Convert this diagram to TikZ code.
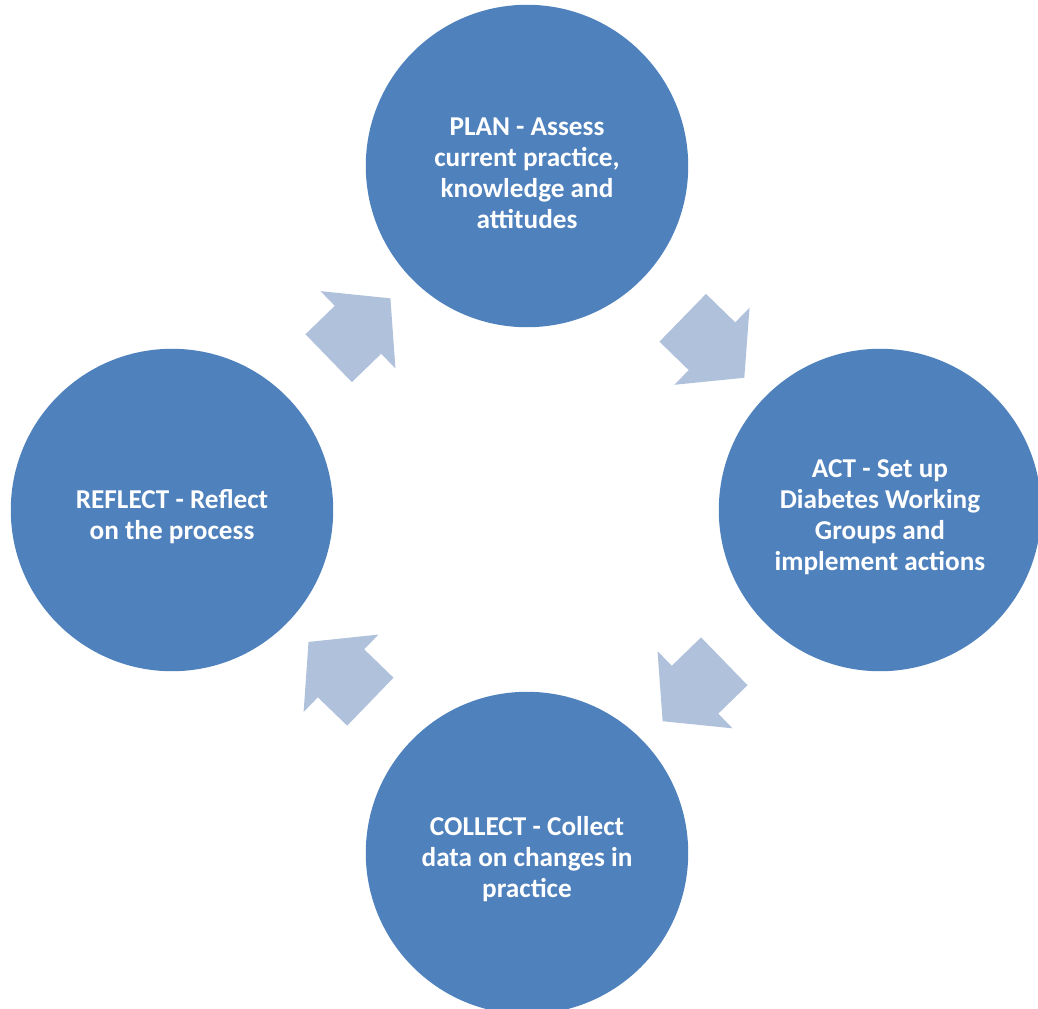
\documentclass[tikz,border=0pt]{standalone}
\usepackage{fontspec}
\setmainfont{Carlito}
\usetikzlibrary{shapes.arrows,calc}
\definecolor{phaseblue}{HTML}{4F81BD}
\definecolor{arrowblue}{HTML}{B0C1DC}
\newcommand{\toppad}{\rule{0pt}{18pt}}

\begin{document}
\begin{tikzpicture}[x=0.02cm,y=-0.02cm,
		phase/.style={circle, fill=phaseblue, minimum size=6.45cm, inner sep=0pt,
			text=white, align=center, font=\bfseries\fontsize{15.5pt}{17.6pt}\selectfont},
		cyclearrow/.style={single arrow, fill=arrowblue, inner xsep=0pt, inner ysep=0.66cm,
			minimum height=1.72cm, single arrow head extend=0.41cm, single arrow tip angle=100}]
		\useasboundingbox (0,0) rectangle (1038,1008);
		% the four phases
		\node[phase] (plan) at (527,166) {\toppad PLAN - Assess\\current practice,\\knowledge and\\attitudes};
		\node[phase] (act) at (880,510) {\toppad ACT - Set up\\Diabetes Working\\Groups and\\implement actions};
		\node[phase] (collect) at (527,853) {\toppad COLLECT - Collect\\data on changes in\\practice};
		\node[phase] (reflect) at (172,510) {\toppad REFLECT - Reflect\\on the process};
		% arrows between them
		\path (plan) -- node[cyclearrow, sloped, allow upside down] (planact) {} (act);
		\path (act) -- node[cyclearrow, sloped, allow upside down] (actcollect) {} (collect);
		\path (collect) -- node[cyclearrow, sloped, allow upside down] (collectreflect) {} (reflect);
		\path (reflect) -- node[cyclearrow, sloped, allow upside down] (reflectplan) {} (plan);
	\end{tikzpicture}
\end{document}
